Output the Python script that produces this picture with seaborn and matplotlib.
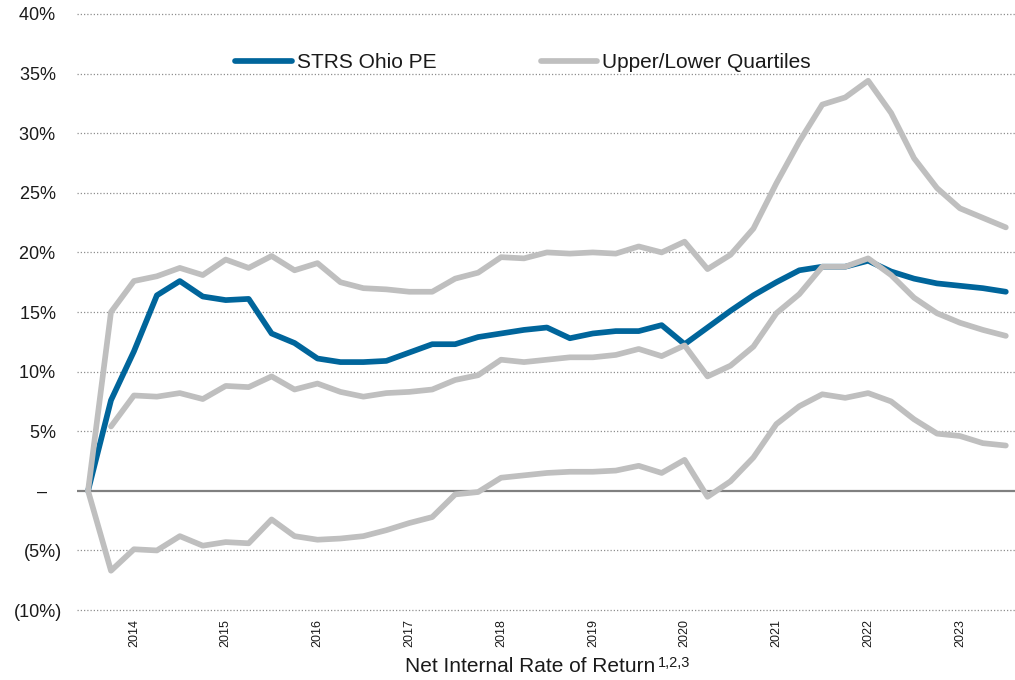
import matplotlib
matplotlib.use("Agg")
import matplotlib.pyplot as plt
import seaborn as sns
import pandas as pd
import numpy as np

# quarterly series, 2013 Q3 .. 2023 Q3 (values in %)
quarters = pd.period_range("2013Q3", "2023Q3", freq="Q")

strs_ohio_pe = [0.0, 7.6, 11.7, 16.4, 17.6, 16.3, 16.0, 16.1, 13.2, 12.4,
                11.1, 10.8, 10.8, 10.9, 11.6, 12.3, 12.3, 12.9, 13.2, 13.5,
                13.7, 12.8, 13.2, 13.4, 13.4, 13.9, 12.3, 13.7, 15.1, 16.4,
                17.5, 18.5, 18.8, 18.8, 19.3, 18.4, 17.8, 17.4, 17.2, 17.0,
                16.7]

upper_q = [0.0, 15.0, 17.6, 18.0, 18.7, 18.1, 19.4, 18.7, 19.7, 18.5,
           19.1, 17.5, 17.0, 16.9, 16.7, 16.7, 17.8, 18.3, 19.6, 19.5,
           20.0, 19.9, 20.0, 19.9, 20.5, 20.0, 20.9, 18.6, 19.8, 22.0,
           25.8, 29.3, 32.4, 33.0, 34.4, 31.7, 27.9, 25.4, 23.7, 22.9,
           22.1]

middle_q = [np.nan, 5.4, 8.0, 7.9, 8.2, 7.7, 8.8, 8.7, 9.6, 8.5,
            9.0, 8.3, 7.9, 8.2, 8.3, 8.5, 9.3, 9.7, 11.0, 10.8,
            11.0, 11.2, 11.2, 11.4, 11.9, 11.3, 12.2, 9.6, 10.5, 12.1,
            14.9, 16.5, 18.8, 18.8, 19.5, 18.1, 16.2, 14.9, 14.1, 13.5,
            13.0]

lower_q = [0.0, -6.7, -4.9, -5.0, -3.8, -4.6, -4.3, -4.4, -2.4, -3.8,
           -4.1, -4.0, -3.8, -3.3, -2.7, -2.2, -0.3, -0.1, 1.1, 1.3,
           1.5, 1.6, 1.6, 1.7, 2.1, 1.5, 2.6, -0.5, 0.8, 2.8,
           5.6, 7.1, 8.1, 7.8, 8.2, 7.5, 6.0, 4.8, 4.6, 4.0,
           3.8]

y_ticks = [-10, -5, 0, 5, 10, 15, 20, 25, 30, 35, 40]
# accounting style: positives padded to line up with the ")" of negatives
pad_sp = " \u200a"
y_tick_labels = ["(10%)", "(5%)", "\u2013   "] + [f"{v}%{pad_sp}" for v in y_ticks[3:]]

BLUE = "#00659B"
GRAY = "#BFBFBF"
TEXT = "#1a1a1a"

sns.set_style("white")
plt.rcParams["font.family"] = ["Liberation Sans", "DejaVu Sans"]

df = pd.DataFrame({
    "pos": np.arange(len(quarters)),
    "year": quarters.year,
    "q": quarters.quarter,
    "strs": strs_ohio_pe,
    "upper": upper_q,
    "middle": middle_q,
    "lower": lower_q,
})

fig = plt.figure(figsize=(10.15, 6.8), dpi=100)
ax = fig.add_axes([0.0759, 0.0976, 0.9241, 0.8871])

# grid + zero line
for v in y_ticks:
    if v == 0:
        continue
    ax.axhline(v, color="#8f8f8f", lw=0.9, ls=(0, (1, 1.6)), zorder=0)
ax.axhline(0, color="#808080", lw=1.6, zorder=1)

line_kw = dict(linewidth=4.1, solid_capstyle="round", solid_joinstyle="round")
sns.lineplot(data=df, x="pos", y="strs", color=BLUE, ax=ax,
             label="STRS Ohio PE", **line_kw)
sns.lineplot(data=df, x="pos", y="upper", color=GRAY, ax=ax,
             label="Upper/Lower Quartiles", **line_kw)
sns.lineplot(data=df, x="pos", y="middle", color=GRAY, ax=ax, **line_kw)
sns.lineplot(data=df, x="pos", y="lower", color=GRAY, ax=ax, **line_kw)

ax.set_xlim(-0.48, 40.4)
ax.set_ylim(-10.3, 40.3)
sns.despine(ax=ax, left=True, bottom=True)

ax.set_yticks(y_ticks)
ax.set_yticklabels(y_tick_labels, fontsize=13, color=TEXT)

q1 = df[df["q"] == 1]
ax.set_xticks(q1["pos"])
ax.set_xticklabels(q1["year"].astype(str), rotation=90, fontsize=9, color=TEXT)
ax.tick_params(axis="both", length=0)
ax.tick_params(axis="y", pad=10.8)
ax.tick_params(axis="x", pad=4)
ax.set_xlabel("")
ax.set_ylabel("")

handles, labels = ax.get_legend_handles_labels()
ax.legend(handles[:2], labels[:2], loc="center", ncol=2, frameon=False,
          bbox_to_anchor=(523 / 1015, 1 - 63 / 680), bbox_transform=fig.transFigure,
          fontsize=15, handlelength=2.7, handletextpad=0.25, columnspacing=5.0,
          labelcolor=TEXT)

# x-axis title with superscript footnote marks
fig.text(405 / 1015, 1 - 672 / 680, "Net Internal Rate of Return", fontsize=15,
         color=TEXT, ha="left", va="baseline")
fig.text(658 / 1015, 1 - 667 / 680, "1,2,3", fontsize=10.5,
         color=TEXT, ha="left", va="baseline")

fig.savefig("out.png", dpi=100)
